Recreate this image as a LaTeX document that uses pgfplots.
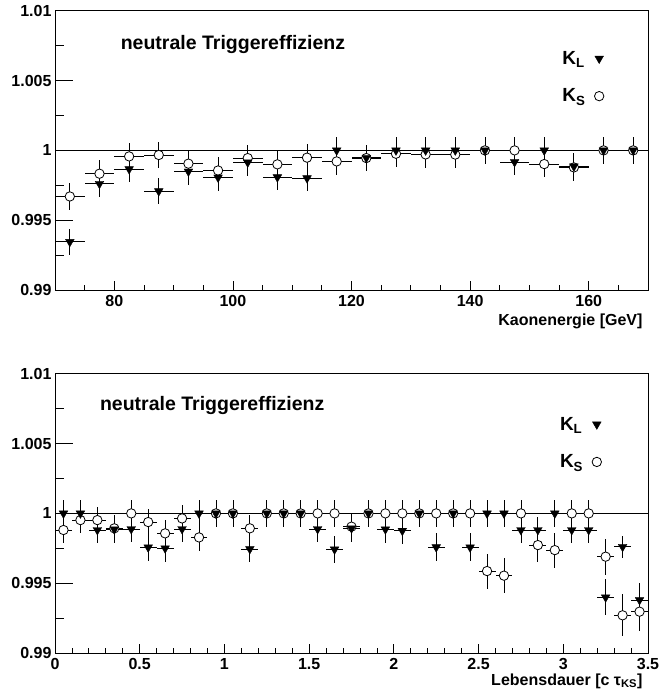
\documentclass[border=0pt]{standalone}
\usepackage{pgfplots}
\pgfplotsset{compat=1.18}
\usepackage{pgfplotstable}
\usepackage{fontspec}
\setmainfont{Liberation Sans}

\pgfplotstableread{
x y ex ey
72.5 0.99670 2.5 0.00095
77.5 0.99833 2.5 0.00095
82.5 0.99957 2.5 0.00095
87.5 0.99967 2.5 0.00095
92.5 0.99905 2.5 0.00095
97.5 0.99856 2.5 0.00095
102.5 0.99945 2.5 0.00095
107.5 0.99900 2.5 0.00095
112.5 0.99948 2.5 0.00095
117.5 0.99921 2.5 0.00095
122.5 0.99945 2.5 0.00095
127.5 0.99976 2.5 0.00095
132.5 0.99971 2.5 0.00095
137.5 0.99970 2.5 0.00095
142.5 1.00000 2.5 0.00095
147.5 1.00000 2.5 0.00095
152.5 0.99902 2.5 0.00095
157.5 0.99878 2.5 0.00095
162.5 1.00000 2.5 0.00095
167.5 1.00000 2.5 0.00095
}\topKS

\pgfplotstableread{
x y ex ey
72.5 0.99345 2.5 0.00095
77.5 0.99761 2.5 0.00095
82.5 0.99866 2.5 0.00095
87.5 0.99708 2.5 0.00095
92.5 0.99849 2.5 0.00095
97.5 0.99806 2.5 0.00095
102.5 0.99914 2.5 0.00095
107.5 0.99808 2.5 0.00095
112.5 0.99801 2.5 0.00095
117.5 1.00000 2.5 0.00095
122.5 0.99947 2.5 0.00095
127.5 1.00000 2.5 0.00095
132.5 1.00000 2.5 0.00095
137.5 1.00000 2.5 0.00095
142.5 1.00000 2.5 0.00095
147.5 0.99917 2.5 0.00095
152.5 1.00000 2.5 0.00095
157.5 0.99885 2.5 0.00095
162.5 1.00000 2.5 0.00095
167.5 1.00000 2.5 0.00095
}\topKL

\pgfplotstableread{
x y ex ey
0.05 0.99881 0.05 0.00095
0.15 0.99952 0.05 0.00095
0.25 0.99952 0.05 0.00095
0.35 0.99893 0.05 0.00095
0.45 1.00000 0.05 0.00095
0.55 0.99938 0.05 0.00095
0.65 0.99857 0.05 0.00095
0.75 0.99964 0.05 0.00095
0.85 0.99828 0.05 0.00095
0.95 1.00000 0.05 0.00095
1.05 1.00000 0.05 0.00095
1.15 0.99893 0.05 0.00095
1.25 1.00000 0.05 0.00095
1.35 1.00000 0.05 0.00095
1.45 1.00000 0.05 0.00095
1.55 1.00000 0.05 0.00095
1.65 1.00000 0.05 0.00095
1.75 0.99905 0.05 0.00095
1.85 1.00000 0.05 0.00095
1.95 1.00000 0.05 0.00095
2.05 1.00000 0.05 0.00095
2.15 1.00000 0.05 0.00095
2.25 1.00000 0.05 0.00095
2.35 1.00000 0.05 0.00095
2.45 1.00000 0.05 0.00095
2.55 0.99587 0.05 0.00125
2.65 0.99554 0.05 0.00125
2.75 1.00000 0.05 0.00095
2.85 0.99773 0.05 0.00120
2.95 0.99737 0.05 0.00125
3.05 1.00000 0.05 0.00095
3.15 1.00000 0.05 0.00095
3.25 0.99690 0.05 0.00130
3.35 0.99270 0.05 0.00150
3.45 0.99296 0.05 0.00140
}\botKS

\pgfplotstableread{
x y ex ey
0.05 1.00000 0.05 0.00095
0.15 1.00000 0.05 0.00095
0.25 0.99881 0.05 0.00095
0.35 0.99886 0.05 0.00095
0.45 0.99888 0.05 0.00095
0.55 0.99757 0.05 0.00095
0.65 0.99750 0.05 0.00095
0.75 0.99888 0.05 0.00095
0.85 1.00000 0.05 0.00095
0.95 1.00000 0.05 0.00095
1.05 1.00000 0.05 0.00095
1.15 0.99745 0.05 0.00095
1.25 1.00000 0.05 0.00095
1.35 1.00000 0.05 0.00095
1.45 1.00000 0.05 0.00095
1.55 0.99888 0.05 0.00095
1.65 0.99742 0.05 0.00095
1.75 0.99893 0.05 0.00095
1.85 1.00000 0.05 0.00095
1.95 0.99886 0.05 0.00095
2.05 0.99876 0.05 0.00095
2.15 1.00000 0.05 0.00095
2.25 0.99758 0.05 0.00100
2.35 1.00000 0.05 0.00095
2.45 0.99757 0.05 0.00100
2.55 1.00000 0.05 0.00095
2.65 1.00000 0.05 0.00095
2.75 0.99881 0.05 0.00095
2.85 0.99881 0.05 0.00095
2.95 1.00000 0.05 0.00095
3.05 0.99881 0.05 0.00095
3.15 0.99881 0.05 0.00095
3.25 0.99399 0.05 0.00130
3.35 0.99761 0.05 0.00080
3.45 0.99380 0.05 0.00120
}\botKL

\pgfplotsset{
  effax/.style={
    width=593pt, height=279.2pt, scale only axis,
    ymin=0.99, ymax=1.01,
    ytick={0.99,0.995,1,1.005,1.01},
    yticklabels={0.99,0.995,1,1.005,1.01},
    minor ytick={0.9925,0.9975,1.0025,1.0075},
    tick align=inside, tick pos=left,
    major tick length=9pt, minor tick length=5pt,
    y tick style={/pgfplots/major tick length=18pt, /pgfplots/minor tick length=9pt},
    axis line style={line width=0.8pt},
    every tick/.style={line width=0.8pt, black},
    ticklabel style={font=\bfseries\fontsize{16}{16}\selectfont},
    xticklabel style={yshift=-2pt},
    xlabel style={font=\bfseries\fontsize{16}{16}\selectfont, at={(axis description cs:1,0)}, anchor=north east, yshift=-20pt, xshift=-2pt},
    clip=false,
    reverse legend,
    legend plot pos=right,
    legend cell align=left,
    legend style={draw=none, fill=none, font=\bfseries\fontsize{19}{19}\selectfont, row sep=19pt, column sep=7pt},
  },
  ksplot/.style={only marks, mark=*, mark size=4.7pt,
    mark options={fill=white, draw=black, line width=0.8pt},
    error bars/.cd, x dir=both, x explicit, y dir=both, y explicit,
    error mark=none, error bar style={line width=0.8pt, black}},
  klplot/.style={only marks, mark=triangle*, mark size=5pt,
    mark options={rotate=180, fill=black, draw=black},
    error bars/.cd, x dir=both, x explicit, y dir=both, y explicit,
    error mark=none, error bar style={line width=0.8pt, black}},
}

\begin{document}
\begin{tikzpicture}
\useasboundingbox (0,0) rectangle (658pt,690pt);
% top panel
\begin{axis}[effax, at={(55pt,400pt)}, anchor=south west,
  xmin=70, xmax=170,
  xtick={80,100,120,140,160},
  xticklabels={80,100,120,140,160},
  minor xtick={70,75,85,90,95,105,110,115,125,130,135,145,150,155,165,170},
  xlabel={Kaonenergie [GeV]},
  legend style={at={(0.931,0.87)}, anchor=north east},
]
\addplot[black, line width=0.8pt, forget plot] coordinates {(70,1) (170,1)};
\addplot+[ksplot] table[x=x, y=y, x error=ex, y error=ey] {\topKS};
\addlegendentry{K\textsubscript{S}}
\addplot+[klplot] table[x=x, y=y, x error=ex, y error=ey] {\topKL};
\addlegendentry{K\textsubscript{L}}
\node[anchor=west, font=\bfseries\fontsize{19.5}{19.5}\selectfont] at (rel axis cs:0.105,0.88) {neutrale Triggereffizienz};
\end{axis}
% bottom panel
\begin{axis}[effax, at={(55pt,37pt)}, anchor=south west,
  xmin=0, xmax=3.5,
  xtick={0,0.5,1,1.5,2,2.5,3,3.5},
  xticklabels={0,0.5,1,1.5,2,2.5,3,3.5},
  minor xtick={0.1,0.2,0.3,0.4,0.6,0.7,0.8,0.9,1.1,1.2,1.3,1.4,1.6,1.7,1.8,1.9,2.1,2.2,2.3,2.4,2.6,2.7,2.8,2.9,3.1,3.2,3.3,3.4},
  xlabel={Lebensdauer [c τ\textsubscript{KS}]},
  xlabel style={yshift=3pt},
  legend style={at={(0.927,0.86)}, anchor=north east},
]
\addplot[black, line width=0.8pt, forget plot] coordinates {(0,1) (3.5,1)};
\addplot+[ksplot] table[x=x, y=y, x error=ex, y error=ey] {\botKS};
\addlegendentry{K\textsubscript{S}}
\addplot+[klplot] table[x=x, y=y, x error=ex, y error=ey] {\botKL};
\addlegendentry{K\textsubscript{L}}
\node[anchor=west, font=\bfseries\fontsize{19.5}{19.5}\selectfont] at (rel axis cs:0.07,0.887) {neutrale Triggereffizienz};
\end{axis}
\end{tikzpicture}
\end{document}
